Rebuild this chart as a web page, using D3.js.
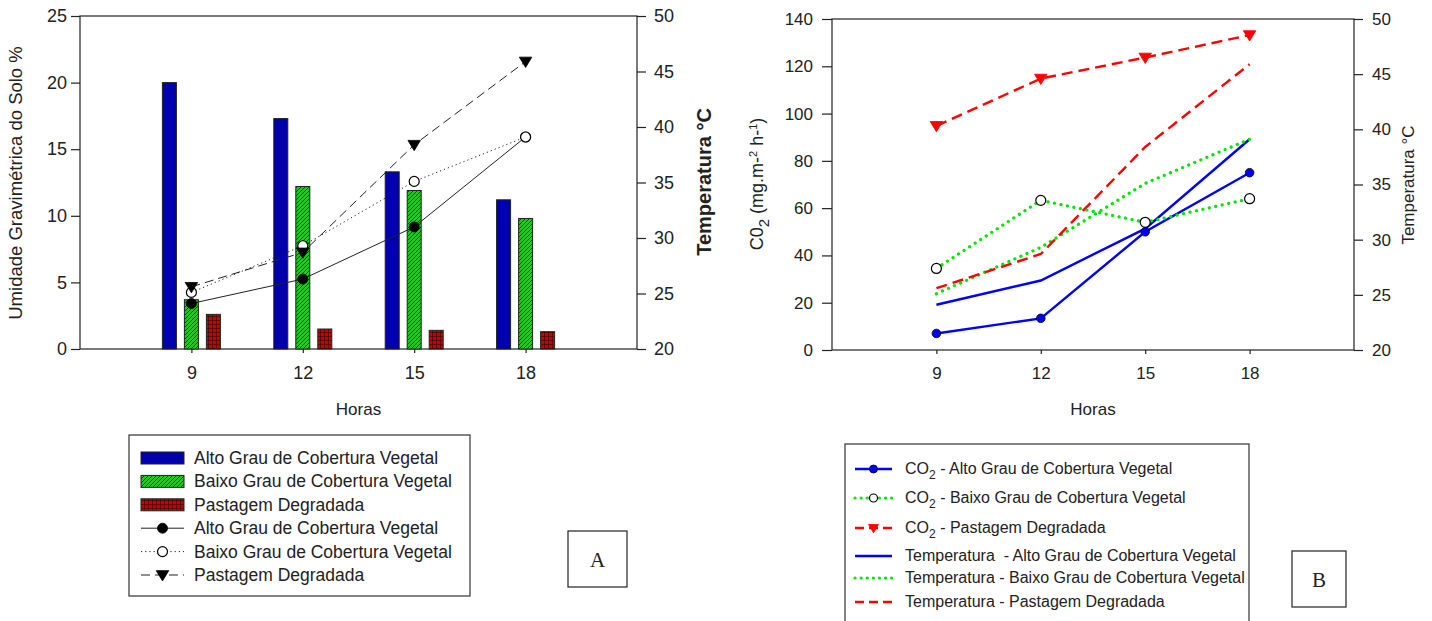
<!DOCTYPE html>
<html>
<head>
<meta charset="utf-8">
<script src="https://cdn.jsdelivr.net/npm/d3@7"></script>
<style>
  body { margin: 0; background: #fff; }
  svg text { font-family: "Liberation Sans", Arial, sans-serif; fill: #222; }
</style>
</head>
<body>
<svg id="chart" width="1432" height="621"></svg>
<script>
// ---- data ----
const hours = [9, 12, 15, 18];

// soil moisture (%), bars in panel A
const umidAlto = [20.0, 17.3, 13.3, 11.2];
const umidBaixo = [3.7, 12.2, 11.9, 9.8];
const umidPast = [2.6, 1.5, 1.4, 1.3];

// temperature (°C), same in both panels
const tempAlto = [24.1, 26.3, 31.0, 39.1];
const tempBaixo = [25.1, 29.3, 35.1, 39.1];
const tempPast = [25.6, 28.7, 38.4, 45.9];

// CO2 flux, panel B
const co2Alto = [7.0, 13.4, 50.0, 75.0];
const co2Baixo = [34.5, 63.3, 54.0, 64.0];
const co2Past = [94.8, 114.8, 123.7, 133.2];

const umidTicks = [0, 5, 10, 15, 20, 25];
const tempTicks = [20, 25, 30, 35, 40, 45, 50];
const co2Ticks = [0, 20, 40, 60, 80, 100, 120, 140];

const svg = d3.select("#chart");

// patterns for bars
const defs = svg.append("defs");
const hatch = defs.append("pattern").attr("id", "hatch")
  .attr("patternUnits", "userSpaceOnUse").attr("width", 4).attr("height", 4);
hatch.append("rect").attr("width", 4).attr("height", 4).attr("fill", "#22c422");
hatch.append("path").attr("d", "M-1,1 l2,-2 M0,4 l4,-4 M3,5 l2,-2")
  .attr("stroke", "#0a400a").attr("stroke-width", 0.9);
const grid = defs.append("pattern").attr("id", "grid")
  .attr("patternUnits", "userSpaceOnUse").attr("width", 4).attr("height", 4);
grid.append("rect").attr("width", 4).attr("height", 4).attr("fill", "#c80000");
grid.append("path").attr("d", "M0,0 h4 M0,0 v4").attr("stroke", "#1a0000").attr("stroke-width", 1);

function axisStyle(size) {
  return g => {
    g.selectAll("path, line").attr("stroke", "#222").attr("stroke-width", 1.2);
    g.selectAll("text").attr("font-size", size).attr("fill", "#222");
  };
}

function drawMarker(g, kind, cx, cy, color, r) {
  if (kind === "fill") {
    g.append("circle").attr("cx", cx).attr("cy", cy).attr("r", r)
      .attr("fill", color).attr("stroke", "#000").attr("stroke-width", 0.8);
  } else if (kind === "open") {
    g.append("circle").attr("cx", cx).attr("cy", cy).attr("r", r)
      .attr("fill", "#fff").attr("stroke", color).attr("stroke-width", 1.2);
  } else if (kind === "tri") {
    const s = r * 1.25;
    g.append("path")
      .attr("d", `M${cx - s},${cy - s * 0.7} L${cx + s},${cy - s * 0.7} L${cx},${cy + s * 0.95} Z`)
      .attr("fill", color).attr("stroke", color).attr("stroke-width", 0.8);
  }
}

// ============================================================
// Panel A
// ============================================================
{
  const L = 80, R = 637, T = 16, B = 349;
  const x = d3.scaleLinear().domain([6, 21]).range([L, R]);
  const yL = d3.scaleLinear().domain([0, 25]).range([B, T]);
  const yR = d3.scaleLinear().domain([20, 50]).range([B, T]);
  const g = svg.append("g");

  // frame
  g.append("rect").attr("x", L).attr("y", T).attr("width", R - L).attr("height", B - T)
    .attr("fill", "none").attr("stroke", "#222").attr("stroke-width", 1.2);

  const bars = [
    { vals: umidAlto, fill: "#0000b0", off: -22 },
    { vals: umidBaixo, fill: "url(#hatch)", off: 0 },
    { vals: umidPast, fill: "url(#grid)", off: 22 }
  ];
  const bw = 14;
  bars.forEach(s => {
    g.selectAll(null).data(hours).enter().append("rect")
      .attr("x", (d) => x(d) + s.off - bw / 2)
      .attr("y", (d, i) => yL(s.vals[i]))
      .attr("width", bw)
      .attr("height", (d, i) => B - yL(s.vals[i]))
      .attr("fill", s.fill).attr("stroke", "#222").attr("stroke-width", 1);
  });

  const lines = [
    { vals: tempAlto, dash: null, marker: "fill" },
    { vals: tempBaixo, dash: "1.2,3", marker: "open" },
    { vals: tempPast, dash: "9,5", marker: "tri" }
  ];
  const line = d3.line().x((d, i) => x(hours[i])).y(d => yR(d));
  lines.forEach(s => {
    g.append("path").datum(s.vals).attr("d", line)
      .attr("fill", "none").attr("stroke", "#222").attr("stroke-width", 1)
      .attr("stroke-dasharray", s.dash);
  });
  lines.forEach(s => {
    s.vals.forEach((v, i) => drawMarker(g, s.marker, x(hours[i]), yR(v), "#000", 5));
  });

  g.append("g").attr("transform", `translate(${L},0)`)
    .call(d3.axisLeft(yL).tickValues(umidTicks).tickSize(9).tickPadding(4))
    .call(axisStyle(18)).call(a => a.select(".domain").remove());
  g.append("g").attr("transform", `translate(${R},0)`)
    .call(d3.axisRight(yR).tickValues(tempTicks).tickSize(9).tickPadding(8))
    .call(axisStyle(18)).call(a => a.select(".domain").remove());
  g.append("g").attr("transform", `translate(0,${B})`)
    .call(d3.axisBottom(x).tickValues(hours).tickSize(4).tickPadding(13))
    .call(axisStyle(18)).call(a => a.select(".domain").remove());

  g.append("text").attr("x", (L + R) / 2).attr("y", 415).attr("text-anchor", "middle")
    .attr("font-size", 17).text("Horas");
  g.append("text").attr("transform", "translate(22,183) rotate(-90)")
    .attr("text-anchor", "middle").attr("font-size", 18.5)
    .text("Umidade Gravimétrica do Solo %");
  g.append("text").attr("transform", "translate(711,182) rotate(-90)")
    .attr("text-anchor", "middle").attr("font-size", 20).attr("font-weight", "bold")
    .text("Temperatura °C");

  // legend
  const lg = svg.append("g");
  lg.append("rect").attr("x", 129).attr("y", 435).attr("width", 341).attr("height", 161)
    .attr("fill", "#fff").attr("stroke", "#333").attr("stroke-width", 1.2);
  const names = ["Alto Grau de Cobertura Vegetal", "Baixo Grau de Cobertura Vegetal", "Pastagem Degradada"];
  const fills = ["#0000b0", "url(#hatch)", "url(#grid)"];
  const marks = ["fill", "open", "tri"];
  const dashes = [null, "1.2,3", "9,5"];
  for (let i = 0; i < 6; i++) {
    const cy = 458 + i * 23.4;
    if (i < 3) {
      lg.append("rect").attr("x", 141).attr("y", cy - 6).attr("width", 43).attr("height", 12)
        .attr("fill", fills[i]).attr("stroke", "#222").attr("stroke-width", 1);
    } else {
      const k = i - 3;
      lg.append("line").attr("x1", 141).attr("x2", 184).attr("y1", cy).attr("y2", cy)
        .attr("stroke", "#222").attr("stroke-width", 1).attr("stroke-dasharray", dashes[k]);
      drawMarker(lg, marks[k], 162.5, cy, "#000", 5);
    }
    lg.append("text").attr("x", 194).attr("y", cy + 6).attr("font-size", 17.5)
      .text(names[i % 3]);
  }
  lg.append("rect").attr("x", 568).attr("y", 531).attr("width", 59).attr("height", 56)
    .attr("fill", "#fff").attr("stroke", "#222").attr("stroke-width", 1.2);
  lg.append("text").attr("x", 597.5).attr("y", 567).attr("text-anchor", "middle")
    .attr("font-size", 21).style("font-family", "'Liberation Serif', 'Times New Roman', serif")
    .text("A");
}

// ============================================================
// Panel B
// ============================================================
{
  const L = 832, R = 1354, T = 19, B = 350;
  const x = d3.scaleLinear().domain([6, 21]).range([L, R]);
  const yL = d3.scaleLinear().domain([0, 140]).range([B, T]);
  const yR = d3.scaleLinear().domain([20, 50]).range([B, T]);
  const g = svg.append("g");

  g.append("rect").attr("x", L).attr("y", T).attr("width", R - L).attr("height", B - T)
    .attr("fill", "none").attr("stroke", "#222").attr("stroke-width", 1.2);

  const blue = "#0000ff", green = "#00e600", red = "#ff0000";
  const series = [
    { vals: tempAlto, y: yR, color: blue, dash: null, marker: null },
    { vals: tempBaixo, y: yR, color: green, dash: "0.1,6.5", marker: null },
    { vals: tempPast, y: yR, color: red, dash: "11,6", marker: null },
    { vals: co2Alto, y: yL, color: blue, dash: null, marker: "fill" },
    { vals: co2Baixo, y: yL, color: green, dash: "0.1,6.5", marker: "open" },
    { vals: co2Past, y: yL, color: red, dash: "11,6", marker: "tri" }
  ];
  series.forEach(s => {
    const dotted = s.dash && s.dash.startsWith("0.1");
    const line = d3.line().x((d, i) => x(hours[i])).y(d => s.y(d));
    g.append("path").datum(s.vals).attr("d", line)
      .attr("fill", "none").attr("stroke", s.color)
      .attr("stroke-linecap", dotted ? "round" : "butt")
      .attr("stroke-width", dotted ? 3.2 : 2.4)
      .attr("stroke-dasharray", s.dash);
  });
  series.forEach(s => {
    if (!s.marker) return;
    s.vals.forEach((v, i) => drawMarker(g, s.marker, x(hours[i]), s.y(v),
      s.marker === "open" ? "#000" : s.color, s.marker === "fill" ? 4.3 : 5));
  });

  g.append("g").attr("transform", `translate(${L},0)`)
    .call(d3.axisLeft(yL).tickValues(co2Ticks).tickSize(10).tickPadding(9))
    .call(axisStyle(17)).call(a => a.select(".domain").remove());
  g.append("g").attr("transform", `translate(${R},0)`)
    .call(d3.axisRight(yR).tickValues(tempTicks).tickSize(9).tickPadding(9))
    .call(axisStyle(17)).call(a => a.select(".domain").remove());
  g.append("g").attr("transform", `translate(0,${B})`)
    .call(d3.axisBottom(x).tickValues(hours).tickSize(4).tickPadding(13))
    .call(axisStyle(17)).call(a => a.select(".domain").remove());

  g.append("text").attr("x", (L + R) / 2).attr("y", 415).attr("text-anchor", "middle")
    .attr("font-size", 17).text("Horas");

  const yl = g.append("text").attr("transform", "translate(763,184) rotate(-90)")
    .attr("text-anchor", "middle").attr("font-size", 18);
  yl.append("tspan").text("C0");
  yl.append("tspan").attr("dy", 6).attr("font-size", 15).text("2");
  yl.append("tspan").attr("dy", -6).text(" (mg.m-");
  yl.append("tspan").attr("dy", -6).attr("font-size", 11).text("2");
  yl.append("tspan").attr("dy", 6).text(" h-");
  yl.append("tspan").attr("dy", -6).attr("font-size", 11).text("1");
  yl.append("tspan").attr("dy", 6).text(")");

  g.append("text").attr("transform", "translate(1414,185) rotate(-90)")
    .attr("text-anchor", "middle").attr("font-size", 17).text("Temperatura °C");

  // legend
  const lg = svg.append("g");
  lg.append("rect").attr("x", 845).attr("y", 444).attr("width", 404).attr("height", 190)
    .attr("fill", "#fff").attr("stroke", "#333").attr("stroke-width", 1.2);
  const rowsY = [469, 498, 528, 556, 578, 602];
  const labels = [
    ["CO", "2", " - Alto Grau de Cobertura Vegetal"],
    ["CO", "2", " - Baixo Grau de Cobertura Vegetal"],
    ["CO", "2", " - Pastagem Degradada"],
    ["Temperatura  - Alto Grau de Cobertura Vegetal"],
    ["Temperatura - Baixo Grau de Cobertura Vegetal"],
    ["Temperatura - Pastagem Degradada"]
  ];
  const legCol = [blue, green, red, blue, green, red];
  const legDash = [null, "0.1,6", "9,5", null, "0.1,6", "9,5"];
  const legMark = ["fill", "open", "tri", null, null, null];
  rowsY.forEach((cy, i) => {
    const dotted = legDash[i] && legDash[i].startsWith("0.1");
    lg.append("line").attr("x1", 855).attr("x2", 892).attr("y1", cy).attr("y2", cy)
      .attr("stroke", legCol[i]).attr("stroke-width", dotted ? 3.2 : 2.4)
      .attr("stroke-linecap", dotted ? "round" : "butt")
      .attr("stroke-dasharray", legDash[i]);
    if (legMark[i]) drawMarker(lg, legMark[i], 873.5, cy, legMark[i] === "open" ? "#000" : legCol[i], 4);
    const t = lg.append("text").attr("x", 905).attr("y", cy + 5).attr("font-size", 16)
      .attr("xml:space", "preserve").style("white-space", "pre");
    const parts = labels[i];
    t.append("tspan").text(parts[0]);
    if (parts.length > 1) {
      t.append("tspan").attr("dy", 5).attr("font-size", 12).text(parts[1]);
      t.append("tspan").attr("dy", -5).text(parts[2]);
    }
  });
  lg.append("rect").attr("x", 1292).attr("y", 551).attr("width", 54).attr("height", 56)
    .attr("fill", "#fff").attr("stroke", "#222").attr("stroke-width", 1.2);
  lg.append("text").attr("x", 1319).attr("y", 587).attr("text-anchor", "middle")
    .attr("font-size", 21).style("font-family", "'Liberation Serif', 'Times New Roman', serif")
    .text("B");
}
</script>
</body>
</html>
